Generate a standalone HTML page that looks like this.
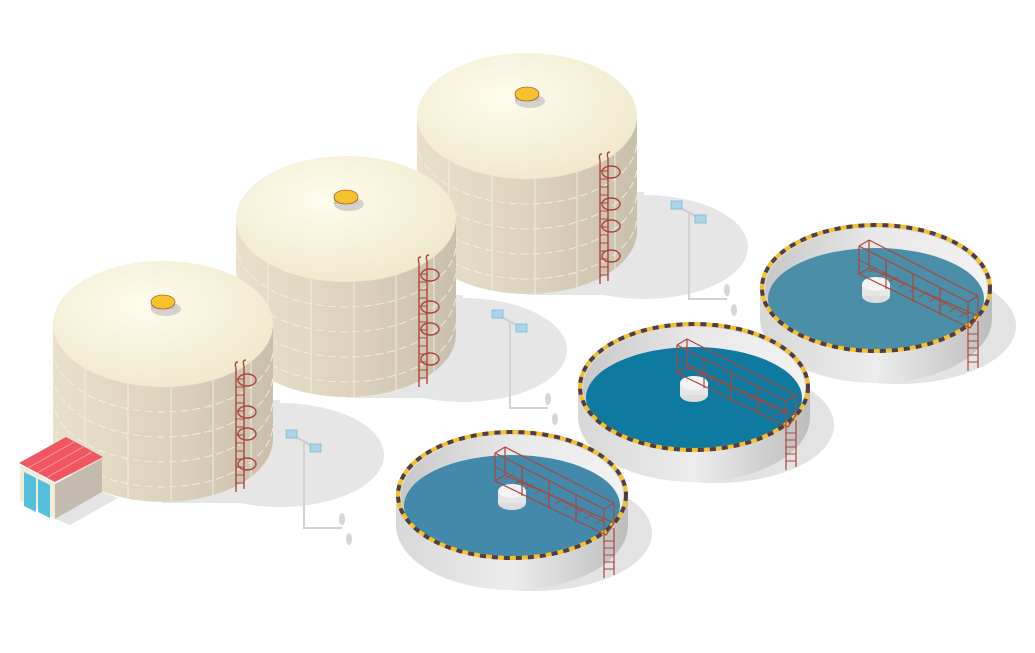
<!DOCTYPE html>
<html><head><meta charset="utf-8"><style>html,body{margin:0;padding:0;background:#fff}svg{display:block}</style></head><body>
<svg width="1035" height="653" viewBox="0 0 1035 653" xmlns="http://www.w3.org/2000/svg">
<defs>
<linearGradient id="body" x1="0" x2="1" y1="0" y2="0"><stop offset="0" stop-color="#e9e0cc"/><stop offset="0.5" stop-color="#ddd3bf"/><stop offset="1" stop-color="#c9bfad"/></linearGradient>
<radialGradient id="top" cx="0.4" cy="0.35" r="0.7"><stop offset="0" stop-color="#fefced"/><stop offset="1" stop-color="#efe8cc"/></radialGradient>
<linearGradient id="wall" x1="0" x2="1"><stop offset="0" stop-color="#d8d8d8"/><stop offset="0.5" stop-color="#ececec"/><stop offset="1" stop-color="#bdbdbd"/></linearGradient>
<linearGradient id="inwall" x1="0" x2="1"><stop offset="0" stop-color="#c8c8c8"/><stop offset="0.5" stop-color="#e8e8e8"/><stop offset="1" stop-color="#f2f2f2"/></linearGradient>
<g id="tank">
 <rect x="0" y="76" width="117" height="103" fill="#e6e6e6"/>
 <ellipse cx="117" cy="131" rx="104" ry="52" fill="#e6e6e6"/>
 <path d="M-110,0 L-110,115 A110,63 0 0 0 110,115 L110,0 Z" fill="url(#body)"/>
 <g stroke="#f4efe4" stroke-width="1" fill="none" opacity="0.9">
  <path d="M-110,25 A110,63 0 0 0 110,25" stroke-dasharray="8 4"/>
  <path d="M-110,50 A110,63 0 0 0 110,50" stroke-dasharray="8 4"/>
  <path d="M-110,75 A110,63 0 0 0 110,75" stroke-dasharray="8 4"/>
  <path d="M-110,100 A110,63 0 0 0 110,100" stroke-dasharray="8 4"/>
  <line x1="-78" y1="44" x2="-78" y2="160"/><line x1="-35" y1="58" x2="-35" y2="175"/><line x1="8" y1="63" x2="8" y2="178"/><line x1="50" y1="55" x2="50" y2="172"/><line x1="88" y1="38" x2="88" y2="153"/>
 </g>
 <ellipse cx="0" cy="0" rx="110" ry="63" fill="url(#top)"/>
 <ellipse cx="3" cy="-15" rx="15" ry="7" fill="#d5d2cc"/>
 <rect x="-12" y="-22" width="24" height="7" fill="#c9c3bb"/>
 <ellipse cx="0" cy="-22" rx="12" ry="7" fill="#f6c22c" stroke="#8a3a2a" stroke-width="0.6"/>
 <g stroke="#a9473a" stroke-width="1.4" fill="none">
  <line x1="73" y1="44" x2="73" y2="168"/><line x1="81" y1="42" x2="81" y2="165"/>
  <path d="M73,44 q-2,-6 2,-6 M81,42 q-2,-6 2,-6"/>
  <ellipse cx="84" cy="56" rx="9" ry="6"/><ellipse cx="84" cy="88" rx="9" ry="6"/><ellipse cx="84" cy="110" rx="9" ry="6"/><ellipse cx="84" cy="140" rx="9" ry="6"/>
  <path d="M73,55h8M73,63h8M73,71h8M73,79h8M73,87h8M73,95h8M73,103h8M73,111h8M73,119h8M73,127h8M73,135h8M73,143h8M73,151h8M73,159h8" stroke-width="1"/>
 </g>
</g>
<g id="sensor">
 <line x1="0" y1="0" x2="24" y2="13" stroke="#ccc" stroke-width="2"/>
 <path d="M12,8 V93 H50" stroke="#d2d2d2" stroke-width="2" fill="none"/>
 <rect x="-6" y="-5" width="11" height="8" fill="#a9d4ea" stroke="#7ab8d8" stroke-width="0.8"/>
 <rect x="18" y="9" width="11" height="8" fill="#a9d4ea" stroke="#7ab8d8" stroke-width="0.8"/>
 <ellipse cx="50" cy="84" rx="3" ry="6" fill="#d6d6d6"/>
 <ellipse cx="57" cy="104" rx="3" ry="6" fill="#d6d6d6"/>
</g>
<g id="clar">
 <ellipse cx="22" cy="38" rx="118" ry="58" fill="#e3e3e3"/>
 <path d="M-116,0 L-116,30 A116,65 0 0 0 116,30 L116,0 Z" fill="url(#wall)"/>
 <ellipse cx="0" cy="0" rx="116" ry="65" fill="#dcdcdc"/>
 <ellipse cx="0" cy="1" rx="111" ry="61" fill="url(#inwall)"/>
 <ellipse cx="0" cy="11" rx="108" ry="51" style="fill:var(--w,#4289ab)"/>
 <ellipse cx="0" cy="0" rx="114" ry="63" fill="none" stroke="#f5c12a" stroke-width="4"/>
 <ellipse cx="0" cy="0" rx="114" ry="63" fill="none" stroke="#4e3d4b" stroke-width="4" stroke-dasharray="6 6"/>
 <ellipse cx="0" cy="8" rx="14" ry="7" fill="#ddd"/>
 <rect x="-14" y="-4" width="28" height="12" fill="#e6e6e6"/>
 <ellipse cx="0" cy="-4" rx="14" ry="7" fill="#f4f4f4"/>
 <g stroke="#a9473a" fill="none" stroke-width="1.2">
  <path d="M-17,-14 L94,40 L102,28 L-7,-20 Z"/>
  <path d="M-7,-16 l8,-5 M3,-11 l8,-5 M13,-6 l8,-5 M23,-1 l8,-5 M33,4 l8,-5 M43,9 l8,-5 M53,14 l8,-5 M63,19 l8,-5 M73,24 l8,-5 M83,29 l8,-5" stroke-width="0.8"/>
  <path d="M-17,-42 L92,14 M-7,-48 L102,8 M-17,-42 L-7,-48 M92,14 L102,8"/>
  <path d="M-17,-42V-14M-7,-48V-20M92,14V40M102,8V28M10,-28V1M37,-14V14M64,0V27"/>
  <path d="M-17,-28 L92,27" stroke-width="0.8"/>
  <line x1="92" y1="38" x2="92" y2="83"/><line x1="102" y1="33" x2="102" y2="80"/>
  <path d="M92,46h10M92,53h10M92,60h10M92,67h10M92,74h10" stroke-width="1"/>
 </g>
</g>
</defs>
<use href="#tank" x="527" y="116"/>
<use href="#sensor" x="677" y="206"/>
<use href="#tank" x="346" y="219"/>
<use href="#sensor" x="498" y="315"/>
<use href="#tank" x="163" y="324"/>
<use href="#sensor" x="292" y="435"/>
<!-- hut -->
<polygon points="55,519 102,492 118,498 70,525" fill="#e4e4e4"/>
<polygon points="20,465 55,484 55,519 20,500" fill="#f3ecd9"/>
<polygon points="24,472 36,478 36,512 24,506" fill="#54c0dc"/>
<polygon points="38,479 50,485 50,518 38,512" fill="#54c0dc"/>
<polygon points="55,484 102,459 102,492 55,519" fill="#c3bbad"/>
<polygon points="19,463 66,437 103,457 55,482" fill="#ef5661"/>
<g stroke="#f9a0a6" stroke-width="0.8"><line x1="28" y1="468" x2="74" y2="442"/><line x1="37" y1="473" x2="83" y2="447"/><line x1="46" y1="478" x2="92" y2="452"/></g>
<use href="#clar" x="876" y="288" style="--w:#4a8ea8"/>
<use href="#clar" x="694" y="387" style="--w:#0e7aa0"/>
<use href="#clar" x="512" y="495" style="--w:#4289ab"/>
</svg>
</body></html>
